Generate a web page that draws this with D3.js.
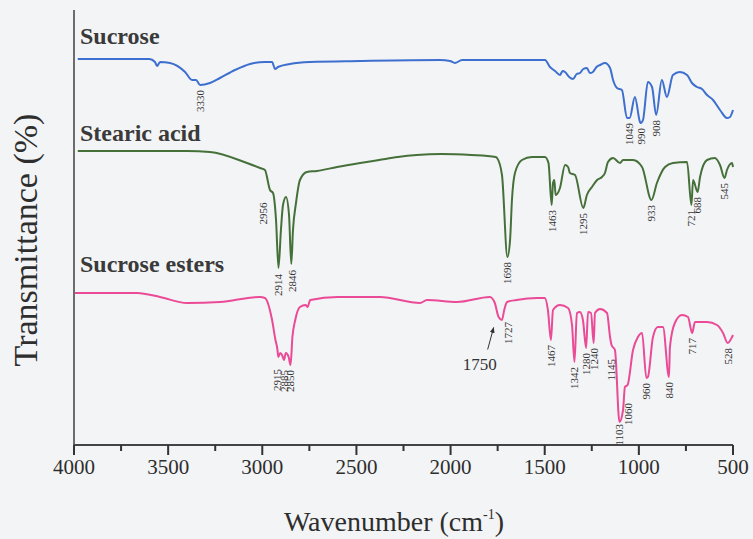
<!DOCTYPE html>
<html>
<head>
<meta charset="utf-8">
<script src="https://cdn.jsdelivr.net/npm/d3@7"></script>
<style>
  body { margin: 0; background: #f3f4f6; }
  svg { display: block; }
  .serif { font-family: "Liberation Serif", "Times New Roman", serif; }
</style>
</head>
<body>
<div class="chart"></div>
<script>
/* spectra: [wavenumber (cm-1), transmittance (a.u., offset per curve)] */
const sucrose = [
  [3980,386],[3600,386],[3570,383],[3559,379],[3543,383],[3490,382],[3410,373],[3373,365],
  [3352,365],[3330,360],[3278,362],[3225,367],[3145,375],[3065,381],[2986,383],[2948,383],
  [2932,376],[2917,378],[2853,381],[2747,383],[2481,384],[2056,385],[2003,384],[1977,382],
  [1939,385],[1499,385],[1472,378],[1445,374],[1419,370],[1405,374],[1392,373],[1370,368],
  [1350,366],[1330,371],[1313,372],[1295,376],[1276,377],[1260,372],[1244,373],[1225,378],
  [1206,380],[1180,382],[1153,377],[1137,365],[1116,357],[1090,355],[1063,327],[1049,327],
  [1021,348],[994,323],[990,322],[978,325],[952,363],[930,358],[908,330],[878,365],[851,348],
  [819,370],[782,373],[744,370],[718,362],[691,358],[665,356],[638,350],[606,345],[569,335],
  [532,327],[516,328],[500,335]
];

const stearicAcid = [
  [3980,294],[3600,294],[3400,294],[3278,293],[3081,282],[3012,277],[2986,275],[2959,255],
  [2943,252],[2927,225],[2914,177],[2901,215],[2890,240],[2874,248],[2858,230],[2846,181],
  [2837,215],[2821,242],[2800,265],[2763,273],[2710,274],[2603,278],[2480,282],[2380,285],
  [2280,288],[2180,290],[2050,291],[1890,290],[1760,288],[1753,287],[1727,270],[1698,188],
  [1684,205],[1674,245],[1658,272],[1621,285],[1568,288],[1499,288],[1480,282],[1463,240],
  [1456,262],[1449,265],[1442,250],[1419,257],[1392,280],[1376,278],[1366,272],[1339,270],
  [1295,237],[1276,250],[1249,258],[1222,265],[1196,268],[1180,272],[1164,283],[1137,287],
  [1100,282],[1084,285],[1031,285],[983,278],[933,245],[904,262],[861,278],[819,282],
  [744,283],[721,240],[712,265],[688,253],[675,268],[638,285],[596,287],[569,280],[545,267],
  [532,275],[505,282],[500,278]
];

const sucroseEsters = [
  [3995,152],[3665,152],[3543,148],[3400,142],[3225,143],[3012,148],[2986,147],[2948,125],
  [2930,105],[2920,96],[2915,88],[2905,92],[2895,90],[2885,85],[2875,92],[2860,88],[2850,80],
  [2840,108],[2825,125],[2800,138],[2770,140],[2760,138],[2745,145],[2600,148],[2375,148],
  [2162,142],[2125,145],[1966,143],[1791,148],[1765,142],[1745,128],[1727,125],[1715,135],
  [1700,143],[1650,145],[1540,147],[1500,147],[1483,135],[1467,105],[1456,135],[1419,140],
  [1376,137],[1355,120],[1342,83],[1329,132],[1313,133],[1297,125],[1280,97],[1270,133],
  [1254,132],[1240,102],[1233,132],[1206,136],[1169,132],[1153,108],[1145,100],[1127,95],
  [1103,23],[1084,35],[1074,58],[1060,60],[1031,95],[1005,108],[983,112],[960,67],[952,68],
  [925,108],[899,118],[872,118],[840,68],[835,98],[809,122],[771,130],[739,128],[717,112],
  [702,123],[638,123],[585,120],[553,112],[528,102],[505,108],[500,110]
];

const seriesNames = ["Sucrose", "Stearic acid", "Sucrose esters"];
const seriesData = [sucrose, stearicAcid, sucroseEsters];
const seriesColors = ["#3d6fcf", "#46703a", "#ea4a96"];

/* peak annotations per series */
const sucrosePeaks = [3330, 1049, 990, 908];
const stearicPeaks = [2956, 2914, 2846, 1698, 1463, 1295, 933, 721, 688, 545];
const esterPeaks = [2915, 2885, 2850, 1727, 1467, 1342, 1280, 1240, 1145, 1103, 1060, 960, 840, 717, 528];
const peakLists = [sucrosePeaks, stearicPeaks, esterPeaks];

const xTicks = d3.range(500, 4001, 250);
const xTickLabels = [4000, 3500, 3000, 2500, 2000, 1500, 1000, 500];

/* label nudges in px for crowded peaks */
const nudge = {
  "1-2956": [-7, 10], "1-2914": [0, 4], "1-2846": [1, 4],
  "2-2915": [-1, 10], "2-2885": [0, 8], "2-2850": [0, 3],
  "2-1727": [6, 0], "2-1145": [0, 12], "2-1060": [1, 16], "2-1103": [0, 0]
};

const width = 753, height = 539;
const svg = d3.select(".chart").append("svg")
  .attr("width", width)
  .attr("height", height)
  .attr("viewBox", [0, 0, width, height]);

svg.append("rect").attr("width", width).attr("height", height).attr("fill", "#f3f4f6");

const x = d3.scaleLinear().domain([4000, 500]).range([74, 733]);
const y = d3.scaleLinear().domain([0, 435]).range([445, 10]);

/* left axis: plain line, no ticks */
svg.append("line")
  .attr("x1", x(4000)).attr("x2", x(4000))
  .attr("y1", y(435)).attr("y2", y(0))
  .attr("stroke", "#4a4a4a").attr("stroke-width", 1.6);

/* bottom axis: line, ticks and labels drawn from the scale */
svg.append("line")
  .attr("x1", x(4000)).attr("x2", x(500))
  .attr("y1", y(0)).attr("y2", y(0))
  .attr("stroke", "#444").attr("stroke-width", 2);

svg.append("g")
  .selectAll("rect")
  .data(xTicks)
  .join("rect")
  .attr("x", d => x(d) - 1)
  .attr("y", y(0))
  .attr("width", 2)
  .attr("height", d => xTickLabels.includes(d) ? 10 : 6)
  .attr("fill", "#333");

svg.append("g")
  .selectAll("text")
  .data(xTickLabels)
  .join("text")
  .attr("class", "serif")
  .attr("x", d => x(d))
  .attr("y", y(0) + 29)
  .attr("text-anchor", "middle")
  .attr("font-size", 21)
  .attr("fill", "#2e2e2e")
  .text(d => d);

/* axis titles */
const xTitle = svg.append("text")
  .attr("class", "serif")
  .attr("x", 394).attr("y", 531)
  .attr("text-anchor", "middle")
  .attr("font-size", 28)
  .attr("fill", "#2e2e2e")
  .text("Wavenumber (cm");
xTitle.append("tspan").attr("dy", -12).attr("font-size", 14).text("-1");
xTitle.append("tspan").attr("dy", 12).text(")");

svg.append("text")
  .attr("class", "serif")
  .attr("transform", "translate(37,240) rotate(-90)")
  .attr("text-anchor", "middle")
  .attr("font-size", 34)
  .attr("fill", "#2e2e2e")
  .text("Transmittance (%)");

/* curves */
const line = d3.line()
  .x(d => x(d[0]))
  .y(d => y(d[1]))
  .curve(d3.curveMonotoneX);

svg.append("g")
  .selectAll("path")
  .data(seriesData)
  .join("path")
  .attr("d", d => line([...d].sort((a, b) => a[0] - b[0])))
  .attr("fill", "none")
  .attr("stroke", (d, i) => seriesColors[i])
  .attr("stroke-width", 2)
  .attr("stroke-linejoin", "round");

/* series names */
const nameBaselines = [44, 141, 272];
svg.append("g")
  .selectAll("text")
  .data(seriesNames)
  .join("text")
  .attr("class", "serif")
  .attr("x", 80)
  .attr("y", (d, i) => nameBaselines[i])
  .attr("font-size", 24)
  .attr("font-weight", "bold")
  .attr("fill", "#3a3a3a")
  .text(d => d);

/* interpolate curve value at a wavenumber */
function valueAt(data, wn) {
  const s = [...data].sort((a, b) => a[0] - b[0]);
  for (let i = 0; i < s.length - 1; i++) {
    if (wn >= s[i][0] && wn <= s[i + 1][0]) {
      const t = (wn - s[i][0]) / (s[i + 1][0] - s[i][0]);
      return s[i][1] + t * (s[i + 1][1] - s[i][1]);
    }
  }
  return s[0][1];
}

/* peak labels, rotated to read bottom-to-top */
const peakRows = [];
peakLists.forEach((list, si) => list.forEach(wn => peakRows.push({ si, wn })));

svg.append("g")
  .selectAll("text")
  .data(peakRows)
  .join("text")
  .attr("class", "serif")
  .attr("transform", d => {
    const [dx, dy] = nudge[`${d.si}-${d.wn}`] || [0, 3];
    const px = x(d.wn) + dx;
    const py = y(valueAt(seriesData[d.si], d.wn)) + dy + 2;
    return `translate(${px},${py}) rotate(-90)`;
  })
  .attr("text-anchor", "end")
  .attr("dy", "0.35em")
  .attr("font-size", 11)
  .attr("fill", "#333")
  .text(d => d.wn);

/* 1750 callout with arrow */
svg.append("defs").append("marker")
  .attr("id", "arrow")
  .attr("viewBox", "0 0 10 10")
  .attr("refX", 9).attr("refY", 5)
  .attr("markerWidth", 6).attr("markerHeight", 6)
  .attr("orient", "auto")
  .append("path").attr("d", "M0,1 L10,5 L0,9 z").attr("fill", "#333");

const tipX = x(1750) - 4;
const tipY = y(valueAt(sucroseEsters, 1750)) + 14;
svg.append("line")
  .attr("x1", tipX - 6).attr("y1", tipY + 22)
  .attr("x2", tipX).attr("y2", tipY)
  .attr("stroke", "#333").attr("stroke-width", 1)
  .attr("marker-end", "url(#arrow)");

svg.append("text")
  .attr("class", "serif")
  .attr("x", tipX - 14).attr("y", tipY + 42)
  .attr("text-anchor", "middle")
  .attr("font-size", 17)
  .attr("fill", "#333")
  .text("1750");
</script>
</body>
</html>
